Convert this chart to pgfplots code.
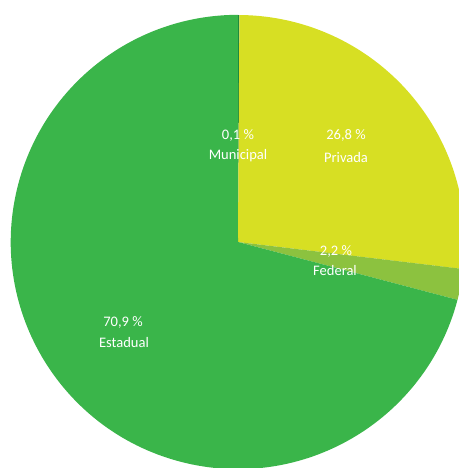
\documentclass[border=0pt]{standalone}
\usepackage{pgfplots}
\pgfplotsset{compat=1.18}
\usepackage{pgfplotstable}
\usepackage{fontspec}
\setmainfont{Carlito}
\definecolor{c0}{HTML}{1F8A3E}
\definecolor{c1}{HTML}{D7DF23}
\definecolor{c2}{HTML}{8CC23F}
\definecolor{c3}{HTML}{3AB54A}
\pgfplotstableread{
label value
Municipal 0.1
Privada 26.8
Federal 2.2
Estadual 70.9
}\piedata
\tikzset{lab/.style={text=white,font=\fontsize{10.5}{12}\selectfont,inner sep=0pt}}
\begin{document}
\begin{tikzpicture}
\begin{axis}[x=0.01in,y=0.01in,xmin=-238,xmax=221,ymin=-226,ymax=242,
  axis lines=none,ticks=none,clip=true]
\clip (axis cs:-238,-226) rectangle (axis cs:221,242);
\def\startangle{90}
\pgfplotsforeachungrouped \i in {0,...,3}{%
  \pgfplotstablegetelem{\i}{value}\of\piedata
  \pgfmathsetmacro\endangle{\startangle-3.6*\pgfplotsretval}%
  \edef\temp{\noexpand\fill[c\i] (axis cs:0,0) -- (axis cs:{227*cos(\startangle)},{227*sin(\startangle)}) arc[start angle=\startangle, end angle=\endangle, radius=2.27in] -- cycle;}%
  \temp
  \global\let\startangle\endangle
}
\node[lab] at (axis cs:0,107) {0,1 \%};
\node[lab] at (axis cs:0,86) {Municipal};
\node[lab] at (axis cs:108,107) {26,8 \%};
\node[lab] at (axis cs:108,84) {Privada};
\node[lab] at (axis cs:98,-9) {2,2 \%};
\node[lab] at (axis cs:97,-29) {Federal};
\node[lab] at (axis cs:-115,-80) {70,9 \%};
\node[lab] at (axis cs:-114,-101) {Estadual};
\end{axis}
\pgfresetboundingbox
\path[use as bounding box] (current axis.south west) rectangle (current axis.north east);
\end{tikzpicture}
\end{document}
